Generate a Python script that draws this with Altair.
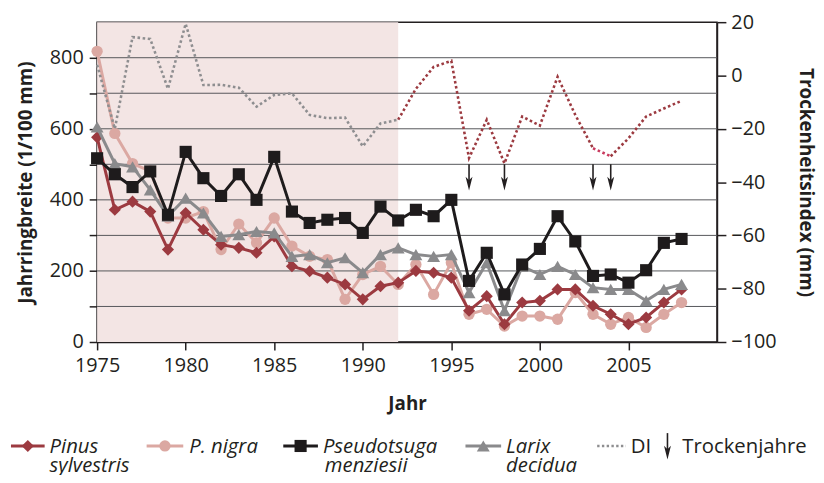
import altair as alt
import pandas as pd

# ---------------- data ----------------
years = list(range(1975, 2009))
pinus = [576, 372, 395, 367, 260, 363, 316, 274, 265, 251, 297, 213, 199, 181, 162, 120, 157, 167,
         200, 195, 181, 88, 129, 50, 111, 116, 148, 148, 102, 78, 50, 69, 111, 148]
nigra = [818, 587, 502, 481, 349, 349, 367, 260, 332, 279, 349, 270, 241, 232, 120, 190, 213, 162,
         218, 134, 223, 78, 92, 45, 73, 73, 64, 139, 78, 50, 69, 41, 78, 111]
pseudo = [517, 472, 436, 480, 358, 535, 461, 411, 472, 400, 521, 367, 335, 344, 349, 307, 381, 342,
          372, 354, 400, 172, 251, 134, 218, 262, 354, 283, 186, 190, 167, 202, 279, 290]
larix = [605, 502, 493, 428, 354, 405, 363, 297, 302, 311, 307, 241, 246, 223, 237, 195, 246, 265,
         246, 241, 246, 139, 223, 88, 213, 190, 213, 190, 153, 148, 148, 116, 148, 162]
di = [4, -20, 14.4, 13.7, -5, 19.4, -3.6, -3.5, -4.6, -11.7, -7.3, -6.7, -14.8, -16, -15.8, -26.6, -18, -16.6,
      -5, 3.2, 5.5, -31, -16.6, -33, -15.4, -18.8, -0.5, -14.8, -27.3, -30.3, -23.6, -15.4, -12.4, -9.5]
drought_years = [1996, 1998, 2003, 2004]
period = [1975, 1992]
x_ticks = [1975, 1980, 1985, 1990, 1995, 2000, 2005]
left_ticks = [0, 100, 200, 300, 400, 500, 600, 700, 800]
right_ticks = [-100, -80, -60, -40, -20, 0, 20]

# ---------------- styles ----------------
FONT = "Open Sans"
INK = "#231f20"
C_PINUS = "#9c3a40"
C_NIGRA = "#dba8a2"
C_PSEUDO = "#1e1b1c"
C_LARIX = "#8a8a8c"
C_DI_GREY = "#8e8e90"
C_DI_RED = "#9c3a40"
C_DI_PINK = "#c83a5e"
C_SHADE = "#f3e5e4"
W, H = 626, 323
PX, PY = 98, 20  # plot origin on page

xscale = alt.Scale(domain=[1975, 2010], nice=False, zero=False)
yl_scale = alt.Scale(domain=[0, 900], nice=False)
yr_scale = alt.Scale(domain=[-100, 20], nice=False)

axis_common = dict(labelFont=FONT, labelFontSize=20, labelColor=INK, tickColor=INK,
                   domainColor=INK, domainWidth=1.5, tickWidth=1.5,
                   titleFont=FONT, titleFontSize=19, titleFontWeight="bold", titleColor=INK)
xaxis = alt.Axis(values=x_ticks, format="d", title="Jahr", tickSize=8, labelPadding=6,
                 titlePadding=19, grid=False, labelFlush=False, **axis_common)
yl_axis = alt.Axis(values=left_ticks, title="Jahrringbreite (1/100 mm)", tickSize=8, labelPadding=6,
                   labelExpr="datum.value % 200 === 0 ? datum.label : ''", titlePadding=14,
                   grid=False, **axis_common)
yr_axis = alt.Axis(values=right_ticks, title="Trockenheitsindex (mm)", orient="right", tickSize=9,
                   labelPadding=5, titlePadding=20, grid=False, **axis_common)

X = lambda f: alt.X(f, type="quantitative", scale=xscale, axis=xaxis)

# ---------------- left (ring widths) ----------------
band_df = pd.DataFrame({"start": [period[0]], "end": [period[1]], "lo": [0], "hi": [900]})
band = alt.Chart(band_df).mark_rect(color=C_SHADE).encode(
    x=X("start"), x2="end",
    y=alt.Y("lo:Q", scale=yl_scale, axis=yl_axis), y2="hi:Q")

grid_df = pd.DataFrame({"v": left_ticks[1:]})
grid = alt.Chart(grid_df).mark_rule(color="#55565a", strokeWidth=1).encode(
    y=alt.Y("v:Q", scale=yl_scale, axis=yl_axis),
    x=alt.value(0), x2=alt.value(W))

series = [
    ("P. nigra", nigra, C_NIGRA, "circle", 130),
    ("Pinus sylvestris", pinus, C_PINUS, "diamond", 150),
    ("Larix decidua", larix, C_LARIX, "triangle-up", 170),
    ("Pseudotsuga menziesii", pseudo, C_PSEUDO, "square", 150),
]
layers_left = [band, grid]
for name, vals, col, shape, size in series:
    d = pd.DataFrame({"Jahr": years, "Wert": vals, "Art": name})
    base = alt.Chart(d).encode(x=X("Jahr"), y=alt.Y("Wert:Q", scale=yl_scale, axis=yl_axis))
    layers_left.append(base.mark_line(color=col, strokeWidth=3))
    layers_left.append(base.mark_point(shape=shape, filled=True, size=size, color=col, opacity=1))

# ---------------- right (drought index) ----------------
di_df = pd.DataFrame({"Jahr": years, "DI": di})
di_grey = di_df[di_df.Jahr <= 1992]
di_red1 = di_df[(di_df.Jahr >= 1992) & (di_df.Jahr <= 2003)]
di_pink = di_df[(di_df.Jahr >= 2003) & (di_df.Jahr <= 2004)]
di_red2 = di_df[di_df.Jahr >= 2004]

def di_line(d, col):
    return alt.Chart(d).mark_line(color=col, strokeWidth=2.6, strokeDash=[2.6, 2.6]).encode(
        x=X("Jahr"), y=alt.Y("DI:Q", scale=yr_scale, axis=yr_axis))

ARROW = "M0,1L-0.45,-0.8L0,-0.35L0.45,-0.8Z"
arrow_df = pd.DataFrame({"Jahr": drought_years, "top": [-33.3] * 4, "tip": [-40.3] * 4})
arrow_shaft = alt.Chart(arrow_df).mark_rule(color=INK, strokeWidth=1.6).encode(
    x=X("Jahr"), y=alt.Y("top:Q", scale=yr_scale, axis=yr_axis), y2="tip:Q")
arrow_head = alt.Chart(arrow_df).mark_point(shape=ARROW, filled=True, size=240, color=INK, opacity=1).encode(
    x=X("Jahr"), y=alt.Y("tip:Q", scale=yr_scale, axis=yr_axis))

right = alt.layer(di_line(di_grey, C_DI_GREY), di_line(di_red1, C_DI_RED), di_line(di_pink, C_DI_PINK),
                  di_line(di_red2, C_DI_RED), arrow_shaft, arrow_head)

# ---------------- legend ----------------
one = pd.DataFrame({"k": [0]})
L = lambda x: x - PX
T = lambda y: y - PY
legend = []

def sample(x0, x1, y, col, shape=None, size=None, dash=None, sw=3):
    kw = dict(color=col, strokeWidth=sw)
    if dash:
        kw["strokeDash"] = dash
    legend.append(alt.Chart(one).mark_rule(**kw).encode(
        x=alt.value(L(x0)), x2=alt.value(L(x1)), y=alt.value(T(y))))
    if shape:
        legend.append(alt.Chart(one).mark_point(shape=shape, filled=True, size=size, color=col, opacity=1).encode(
            x=alt.value(L((x0 + x1) / 2)), y=alt.value(T(y))))

def label(x, y, text, italic=True):
    kw = dict(text=text, align="left", baseline="alphabetic", font=FONT, fontSize=20.5, color=INK)
    if italic:
        kw["fontStyle"] = "italic"
    legend.append(alt.Chart(one).mark_text(**kw).encode(x=alt.value(L(x)), y=alt.value(T(y))))

ROW = 448
B1, B2 = 455.5, 474.5
sample(11, 45, ROW, C_PINUS, "diamond", 150)
label(50, B1, "Pinus")
label(50, B2, "sylvestris")
sample(148, 185, ROW, C_NIGRA, "circle", 130)
label(191, B1, "P. nigra")
sample(286, 321, ROW, C_PSEUDO, "square", 150)
label(326, B1, "Pseudotsuga")
label(328, B2, "menziesii")
sample(470, 506, ROW, C_LARIX, "triangle-up", 170)
label(511, B1, "Larix")
label(511, B2, "decidua")
sample(603, 632, ROW, C_DI_GREY, dash=[2.4, 2.4], sw=2.4)
label(637, B1, "DI", italic=False)
legend.append(alt.Chart(one).mark_rule(color=INK, strokeWidth=1.6).encode(
    x=alt.value(L(674)), y=alt.value(T(435)), y2=alt.value(T(455))))
legend.append(alt.Chart(one).mark_point(shape=ARROW, filled=True, size=240, color=INK, opacity=1).encode(
    x=alt.value(L(674)), y=alt.value(T(454))))
label(689, B1, "Trockenjahre", italic=False)

left = alt.layer(*layers_left, *legend)

chart = alt.layer(left, right).resolve_scale(y="independent").properties(
    width=W, height=H,
    autosize=alt.AutoSizeParams(type="none"),
    padding={"left": PX - 8, "top": PY - 8, "right": 100, "bottom": 132},
).configure_view(stroke=INK, strokeWidth=1.5)

chart.save("out.html", embed_options={"renderer": "svg", "actions": False})
